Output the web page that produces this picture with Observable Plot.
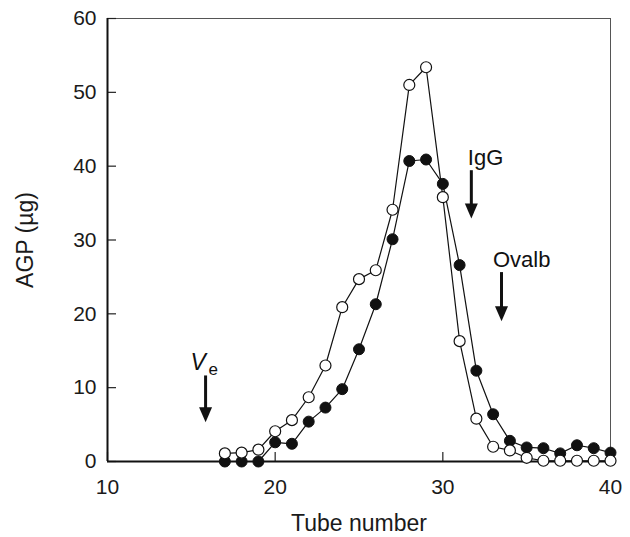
<!DOCTYPE html>
<html><head><meta charset="utf-8">
<script src="https://cdn.jsdelivr.net/npm/d3@7"></script>
<script src="https://cdn.jsdelivr.net/npm/@observablehq/plot@0.6"></script>
<style>body{margin:0;background:#fff}</style>
</head><body><div id="chart"></div>
<script>
const tubes = [17,18,19,20,21,22,23,24,25,26,27,28,29,30,31,32,33,34,35,36,37,38,39,40];
const filledAGP = [0,0,0,2.6,2.4,5.4,7.3,9.8,15.2,21.3,30.1,40.7,40.9,37.6,26.6,12.3,6.4,2.8,1.9,1.8,1.1,2.2,1.8,1.2];
const openAGP = [1.1,1.2,1.6,4.1,5.6,8.7,13.0,20.9,24.7,25.9,34.1,51.0,53.4,35.8,16.3,5.8,2.0,1.5,0.5,0.1,0.1,0.1,0.1,0.1];
const xTicks = [10,20,30,40];
const yTicks = [0,10,20,30,40,50,60];
const arrowX = [15.85,31.7,33.5];
const arrowTop = [10.3,38.1,24.3];
const arrowBottom = [5.3,32.9,19.0];
const labelText = ["IgG","Ovalb"];
const labelX = [31.49,32.99];
const labelY = [40.1,26.3];

const filled = tubes.map((t,i)=>({t, v: filledAGP[i]}));
const open = tubes.map((t,i)=>({t, v: openAGP[i]}));
const arrows = arrowX.map((x,i)=>({x, y1: arrowTop[i], y2: arrowBottom[i]}));
const labels = labelText.map((s,i)=>({s, x: labelX[i], y: labelY[i]}));

const W = 630, H = 537, mL = 107, mR = 20, mT = 18, mB = 76;
const pxX = (40-10)/(W-mL-mR), pxY = (60-0)/(H-mT-mB);
const head = {draw(c){ c.moveTo(-6.5,-15); c.lineTo(6.5,-15); c.lineTo(0,0); c.closePath(); }};

const chart = Plot.plot({
  width: W, height: H,
  marginLeft: mL, marginRight: mR, marginTop: mT, marginBottom: mB,
  x: {domain: [10,40]},
  y: {domain: [0,60]},
  style: {fontFamily: "'Liberation Sans', Arial, sans-serif", fontSize: "21px", color: "#1a1a1a", background: "#fff"},
  marks: [
    Plot.frame({stroke: "#555", strokeWidth: 1}),
    Plot.ruleY(yTicks, {y: d=>d, x1: 10, x2: 10 + 9*pxX, stroke: "#222", strokeWidth: 1.2}),
    Plot.ruleX(xTicks, {x: d=>d, y1: 0, y2: 9*pxY, stroke: "#222", strokeWidth: 1.2}),
    Plot.ruleX([10], {stroke: "#111", strokeWidth: 2}),
    Plot.ruleY([0], {stroke: "#111", strokeWidth: 2}),
    Plot.axisX(xTicks, {tickSize: 0, tickPadding: 18, fontSize: 21, label: null}),
    Plot.axisY(yTicks, {tickSize: 0, tickPadding: 11, fontSize: 21, label: null}),
    Plot.text(["Tube number"], {frameAnchor: "bottom", dy: 62, text: d=>d, lineAnchor: "middle", fontSize: 23, fill: "#1a1a1a"}),
    Plot.text(["AGP (µg)"], {x: [10], y: [30], dx: -82, rotate: -90, text: d=>d, textAnchor: "middle", lineAnchor: "middle", fontSize: 23, fill: "#1a1a1a"}),
    Plot.line(filled, {x: "t", y: "v", stroke: "#111", strokeWidth: 1.2}),
    Plot.line(open, {x: "t", y: "v", stroke: "#111", strokeWidth: 1.2}),
    Plot.dot(filled, {x: "t", y: "v", r: 5.5, fill: "#111", stroke: "#111", strokeWidth: 1}),
    Plot.dot(open, {x: "t", y: "v", r: 5.5, fill: "#fff", stroke: "#111", strokeWidth: 1.2}),
    Plot.link(arrows, {x1: "x", x2: "x", y1: "y1", y2: "y2", stroke: "#111", strokeWidth: 3, dy: -10}),
    Plot.dot(arrows, {x: "x", y: "y2", symbol: head, r: 5, fill: "#111", stroke: "none"}),
    Plot.text(labels, {x: "x", y: "y", text: "s", textAnchor: "start", lineAnchor: "bottom", fontSize: 22, fill: "#111"}),
    Plot.text([arrowX[0]], {x: d=>d, y: [arrowTop[0]], text: ["V"], dx: -15, dy: -15, textAnchor: "start", lineAnchor: "bottom", fontStyle: "italic", fontSize: 23, fill: "#111"}),
    Plot.text([arrowX[0]], {x: d=>d, y: [arrowTop[0]], text: ["e"], dx: 3, dy: -10, textAnchor: "start", lineAnchor: "bottom", fontSize: 17, fill: "#111"})
  ]
});
document.getElementById("chart").appendChild(chart);
</script>
</body></html>
